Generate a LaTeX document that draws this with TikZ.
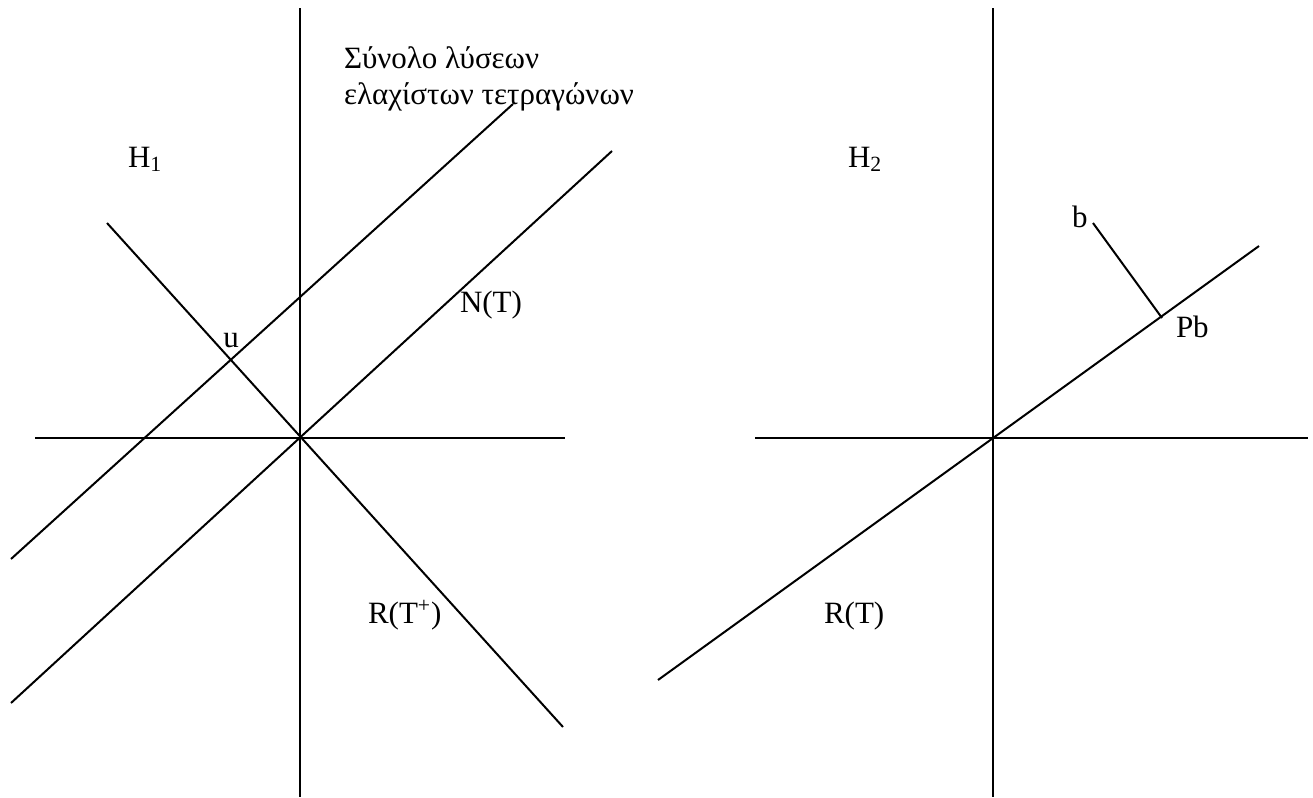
\documentclass[tikz,border=0pt]{standalone}
\usepackage{fontspec}
\setmainfont{Liberation Serif}
\begin{document}
\begin{tikzpicture}[x=0.5pt, y=-0.5pt, line width=1pt]
    \tikzset{
        axis/.style={draw, line width=1pt},
        lbl/.style={inner sep=0pt, anchor=base west, font=\fontsize{15.5}{18}\selectfont}
    }
    \useasboundingbox (0,0) rectangle (1313,798);

    % left diagram
    \coordinate (O1) at (300,438);
    \coordinate (v1top) at (300,8);
    \coordinate (v1bot) at (300,797);
    \coordinate (h1l) at (35,438);
    \coordinate (h1r) at (565,438);
    \coordinate (nt1) at (11,703);
    \coordinate (nt2) at (612,151);
    \coordinate (rt1) at (107,223);
    \coordinate (rt2) at (563,727);
    \coordinate (ls1) at (11,559);
    \coordinate (ls2) at (513,104);

    \draw[axis] (v1top) -- (v1bot);
    \draw[axis] (h1l) -- (h1r);
    \draw (nt1) -- (nt2);
    \draw (rt1) -- (rt2);
    \draw (ls1) -- (ls2);

    \node[lbl] (H1) at (127,167) {H\textsubscript{1}};
    \node[lbl, anchor=base] (u) at (231,347) {u};
    \node[lbl] (NT) at (459,312) {N(T)};
    \node[lbl] (RTp) at (367,623) {R(T\textsuperscript{+})};
    \node[lbl, align=left, anchor=north west] (lsq) at (343,46)
        {Σύνολο λύσεων\\ελαχίστων τετραγώνων};

    % right diagram
    \coordinate (O2) at (993,438);
    \coordinate (v2top) at (993,8);
    \coordinate (v2bot) at (993,797);
    \coordinate (h2l) at (755,438);
    \coordinate (h2r) at (1308,438);
    \coordinate (r1) at (658,680);
    \coordinate (r2) at (1259,246);
    \coordinate (bpt) at (1093,223);
    \coordinate (Pbpt) at (1162,318);

    \draw[axis] (v2top) -- (v2bot);
    \draw[axis] (h2l) -- (h2r);
    \draw (r1) -- (r2);
    \draw (bpt) -- (Pbpt);

    \node[lbl] (H2) at (847,167) {H\textsubscript{2}};
    \node[lbl] (b) at (1071,227) {b};
    \node[lbl] (Pb) at (1175,337) {Pb};
    \node[lbl] (RT) at (823,623) {R(T)};
\end{tikzpicture}
\end{document}
